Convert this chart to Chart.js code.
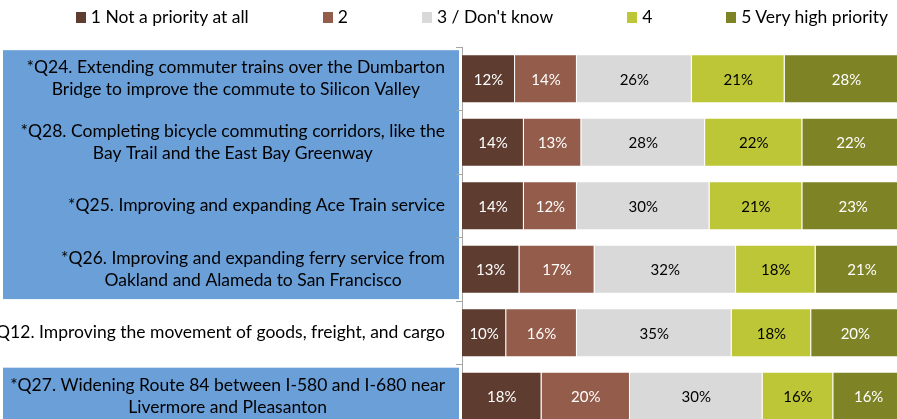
<!DOCTYPE html>
<html>
<head>
<meta charset="utf-8">
<title>Transportation priorities</title>
<script src="https://cdn.jsdelivr.net/npm/chart.js@4/dist/chart.umd.min.js"></script>
<style>
  html, body { margin: 0; padding: 0; background: #fff; }
  #wrap { position: relative; width: 897px; height: 419px; overflow: hidden; font-family: Lato, "Open Sans", sans-serif; }
  #chart { position: absolute; left: 0; top: 0; }
  #legend { position: absolute; top: 6px; right: 9px; display: flex; gap: 74px; font-size: 17.5px; line-height: 22px; color: #000; }
  .item { display: flex; align-items: center; white-space: nowrap; }
  .swatch { width: 10px; height: 11px; margin-right: 5px; }
</style>
</head>
<body>
<div id="wrap">
  <!-- canvas is a bit wider/taller than the window, like the cropped original -->
  <canvas id="chart" width="904" height="428"></canvas>
  <div id="legend"></div>
</div>
<script>
// categories (each one is a list of label lines)
const categories = [
  ['*Q24. Extending commuter trains over the Dumbarton', 'Bridge to improve the commute to Silicon Valley'],
  ['*Q28. Completing bicycle commuting corridors, like the', 'Bay Trail and the East Bay Greenway'],
  ['*Q25. Improving and expanding Ace Train service'],
  ['*Q26. Improving and expanding ferry service from', 'Oakland and Alameda to San Francisco'],
  ['Q12. Improving the movement of goods, freight, and cargo'],
  ['*Q27. Widening Route 84 between I-580 and I-680 near', 'Livermore and Pleasanton']
];
// rows shown on a blue panel
const highlighted = [true, true, true, true, false, true];

const seriesNames = ['1 Not a priority at all', '2', '3 / Don\'t know', '4', '5 Very high priority'];
const notPriority = [12, 14, 14, 13, 10, 18];
const level2 = [14, 13, 12, 17, 16, 20];
const dontKnow = [26, 28, 30, 32, 35, 30];
const level4 = [21, 22, 21, 18, 18, 16];
const veryHigh = [28, 22, 23, 21, 20, 16];

const colors = ['#5e3c30', '#945c4a', '#d9d9d9', '#bcc637', '#7e8326'];
const labelColors = ['#fff', '#fff', '#000', '#000', '#fff'];
const panelColor = '#6a9fd8';
const font = 'Lato, "Open Sans", sans-serif';

const seriesValues = [notPriority, level2, dontKnow, level4, veryHigh];

// legend in html
const legendEl = document.getElementById('legend');
legendEl.innerHTML = seriesNames.map((name, i) =>
  `<div class="item"><span class="swatch" style="background:${colors[i]}"></span>${name}</div>`
).join('');

// blue panels, category labels and percentages
const decorations = {
  id: 'decorations',
  beforeDraw(chart) {
    const ctx = chart.ctx;
    const y = chart.scales.y;
    const pitch = y.getPixelForValue(1) - y.getPixelForValue(0);
    ctx.save();
    ctx.fillStyle = panelColor;
    let i = 0;
    while (i < highlighted.length) {
      if (!highlighted[i]) { i++; continue; }
      let j = i;
      while (j + 1 < highlighted.length && highlighted[j + 1]) j++;
      const top = y.getPixelForValue(i) - pitch * 0.45;
      const bottom = y.getPixelForValue(j) + pitch * 0.47;
      ctx.fillRect(3, top, 456, bottom - top);
      i = j + 1;
    }
    ctx.restore();
  },
  afterDraw(chart) {
    const ctx = chart.ctx;
    const y = chart.scales.y;
    ctx.save();

    // category labels: block right aligned, lines centred on each other
    ctx.font = '17.5px ' + font;
    ctx.fillStyle = '#000';
    ctx.textAlign = 'center';
    ctx.textBaseline = 'middle';
    const lineH = 22;
    categories.forEach((lines, i) => {
      const blockW = Math.max(...lines.map(l => ctx.measureText(l).width));
      const cx = 445 - blockW / 2;
      const cy = y.getPixelForValue(i);
      const startY = cy - (lines.length - 1) * lineH / 2;
      lines.forEach((line, k) => ctx.fillText(line, cx, startY + k * lineH));
    });

    // percentages in the bars
    ctx.font = '15px ' + font;
    chart.data.datasets.forEach((ds, d) => {
      const meta = chart.getDatasetMeta(d);
      ctx.fillStyle = labelColors[d];
      meta.data.forEach((bar, i) => {
        ctx.fillText(ds.data[i] + '%', (bar.x + bar.base) / 2, bar.y + 1);
      });
    });
    ctx.restore();
  }
};

new Chart(document.getElementById('chart'), {
  type: 'bar',
  data: {
    labels: categories,
    datasets: seriesValues.map((values, i) => ({
      label: seriesNames[i],
      data: values,
      backgroundColor: colors[i],
      borderColor: 'rgba(255,255,255,0.4)',
      borderWidth: 1,
      barPercentage: 0.77,
      categoryPercentage: 1
    }))
  },
  options: {
    responsive: false,
    animation: false,
    indexAxis: 'y',
    layout: { padding: { top: 47, left: 0, right: 0, bottom: 0 } },
    plugins: {
      legend: { display: false },
      tooltip: { enabled: false }
    },
    scales: {
      x: { stacked: true, min: 0, max: 100, display: false },
      y: {
        stacked: true,
        afterFit(scale) { scale.width = 462; },
        ticks: { display: false },
        grid: { offset: true, drawOnChartArea: false, drawTicks: true, tickLength: 6, color: '#a6a6a6' },
        border: { display: true, color: '#a6a6a6' }
      }
    }
  },
  plugins: [decorations]
});
</script>
</body>
</html>
